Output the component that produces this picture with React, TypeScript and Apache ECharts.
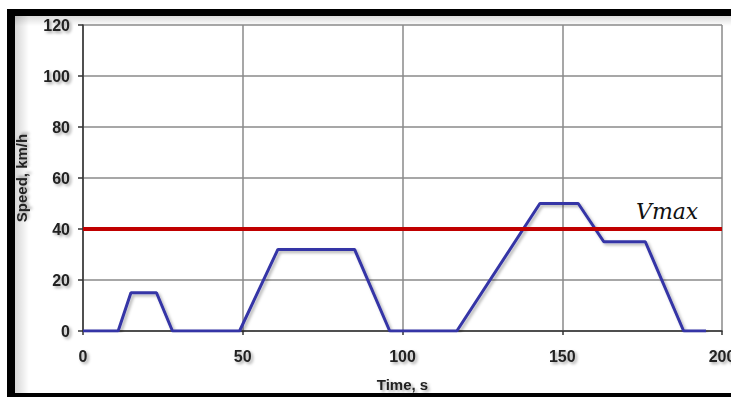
import React, { useEffect, useRef } from "react";
import * as echarts from "echarts";

const timeS = [0, 11, 15, 23, 28, 49, 61, 85, 96, 117, 143, 155, 163, 176, 188, 195];
const speedKmh = [0, 0, 15, 15, 0, 0, 32, 32, 0, 0, 50, 50, 35, 35, 0, 0];
const vMax = 40;
const xTicks = [0, 50, 100, 150, 200];
const yTicks = [0, 20, 40, 60, 80, 100, 120];

const shadowText = {
  textShadowColor: "rgba(0,0,0,0.35)",
  textShadowBlur: 3,
  textShadowOffsetX: 2,
  textShadowOffsetY: 2,
};

export default function App() {
  const ref = useRef<HTMLDivElement>(null);
  useEffect(() => {
    if (!ref.current) return;
    const chart = echarts.init(ref.current, null, { renderer: "svg" });
    const lineShadow = {
      shadowColor: "rgba(0,0,0,0.3)",
      shadowBlur: 3,
      shadowOffsetX: 2,
      shadowOffsetY: 2,
    };
    chart.setOption({
      animation: false,
      backgroundColor: "#ffffff",
      grid: { left: 83, right: 9, top: 25, bottom: 66, outerBoundsMode: "none", containLabel: false },
      xAxis: {
        type: "value",
        min: xTicks[0],
        max: xTicks[xTicks.length - 1],
        interval: 50,
        name: "Time, s",
        nameLocation: "middle",
        nameGap: 46,
        nameTextStyle: {
          fontFamily: "Liberation Sans, Arial",
          fontWeight: "bold",
          fontSize: 15,
          color: "#222",
          ...shadowText,
        },
        axisLine: { lineStyle: { color: "#333", width: 1.5 } },
        axisTick: { show: true, inside: false, length: 4, lineStyle: { color: "#333", width: 1.5 } },
        axisLabel: {
          margin: 17,
          fontFamily: "Liberation Sans, Arial",
          fontWeight: "bold",
          fontSize: 16,
          color: "#222",
          ...shadowText,
        },
        splitLine: { show: true, lineStyle: { color: "#8a8a8a", width: 1.5 } },
      },
      yAxis: {
        type: "value",
        min: yTicks[0],
        max: yTicks[yTicks.length - 1],
        interval: 20,
        name: "Speed, km/h",
        nameLocation: "middle",
        nameGap: 54,
        nameTextStyle: {
          fontFamily: "Liberation Sans, Arial",
          fontWeight: "bold",
          fontSize: 15,
          color: "#222",
          ...shadowText,
        },
        axisLine: { show: true, lineStyle: { color: "#333", width: 1.5 } },
        axisTick: { show: true, inside: false, length: 5, lineStyle: { color: "#333", width: 1.5 } },
        axisLabel: {
          margin: 13,
          fontFamily: "Liberation Sans, Arial",
          fontWeight: "bold",
          fontSize: 16,
          color: "#222",
          ...shadowText,
        },
        splitLine: { show: true, lineStyle: { color: "#8a8a8a", width: 1.5 } },
      },
      series: [
        {
          type: "line",
          data: timeS.map((t, i) => [t, speedKmh[i]]),
          symbol: "none",
          lineStyle: { color: "#3434a6", width: 3, ...lineShadow },
          markLine: {
            silent: true,
            symbol: ["none", "none"],
            label: { show: false },
            lineStyle: { color: "#c00000", width: 4, type: "solid" },
            data: [{ yAxis: vMax }],
          },
          z: 3,
        },
      ],
      graphic: [
        {
          type: "text",
          left: 636,
          top: 200,
          style: {
            text: "Vmax",
            font: "italic 22px 'DejaVu Serif'",
            fill: "#111",
          },
          z: 10,
        },
        {
          type: "rect",
          shape: { x: 15, y: 16, width: 716, height: 10 },
          style: {
            fill: new echarts.graphic.LinearGradient(0, 0, 0, 1, [
              { offset: 0, color: "rgba(0,0,0,0.14)" },
              { offset: 1, color: "rgba(0,0,0,0)" },
            ]),
          },
          z: 0,
          silent: true,
        },
        {
          type: "rect",
          shape: { x: 15, y: 16, width: 14, height: 377 },
          style: {
            fill: new echarts.graphic.LinearGradient(0, 0, 1, 0, [
              { offset: 0, color: "rgba(0,0,0,0.16)" },
              { offset: 1, color: "rgba(0,0,0,0)" },
            ]),
          },
          z: 0,
          silent: true,
        },
        {
          type: "rect",
          shape: { x: 7, y: 9, width: 724, height: 7 },
          style: { fill: "#000" },
          z: 20,
        },
        {
          type: "rect",
          shape: { x: 7, y: 9, width: 8, height: 388 },
          style: { fill: "#000" },
          z: 20,
        },
        {
          type: "rect",
          shape: { x: 7, y: 393, width: 724, height: 4 },
          style: { fill: "#000" },
          z: 20,
        },
      ],
    });
    return () => chart.dispose();
  }, []);
  return (
    <div
      ref={ref}
      style={{ position: "fixed", left: 0, top: 0, width: 731, height: 397 }}
    />
  );
}
